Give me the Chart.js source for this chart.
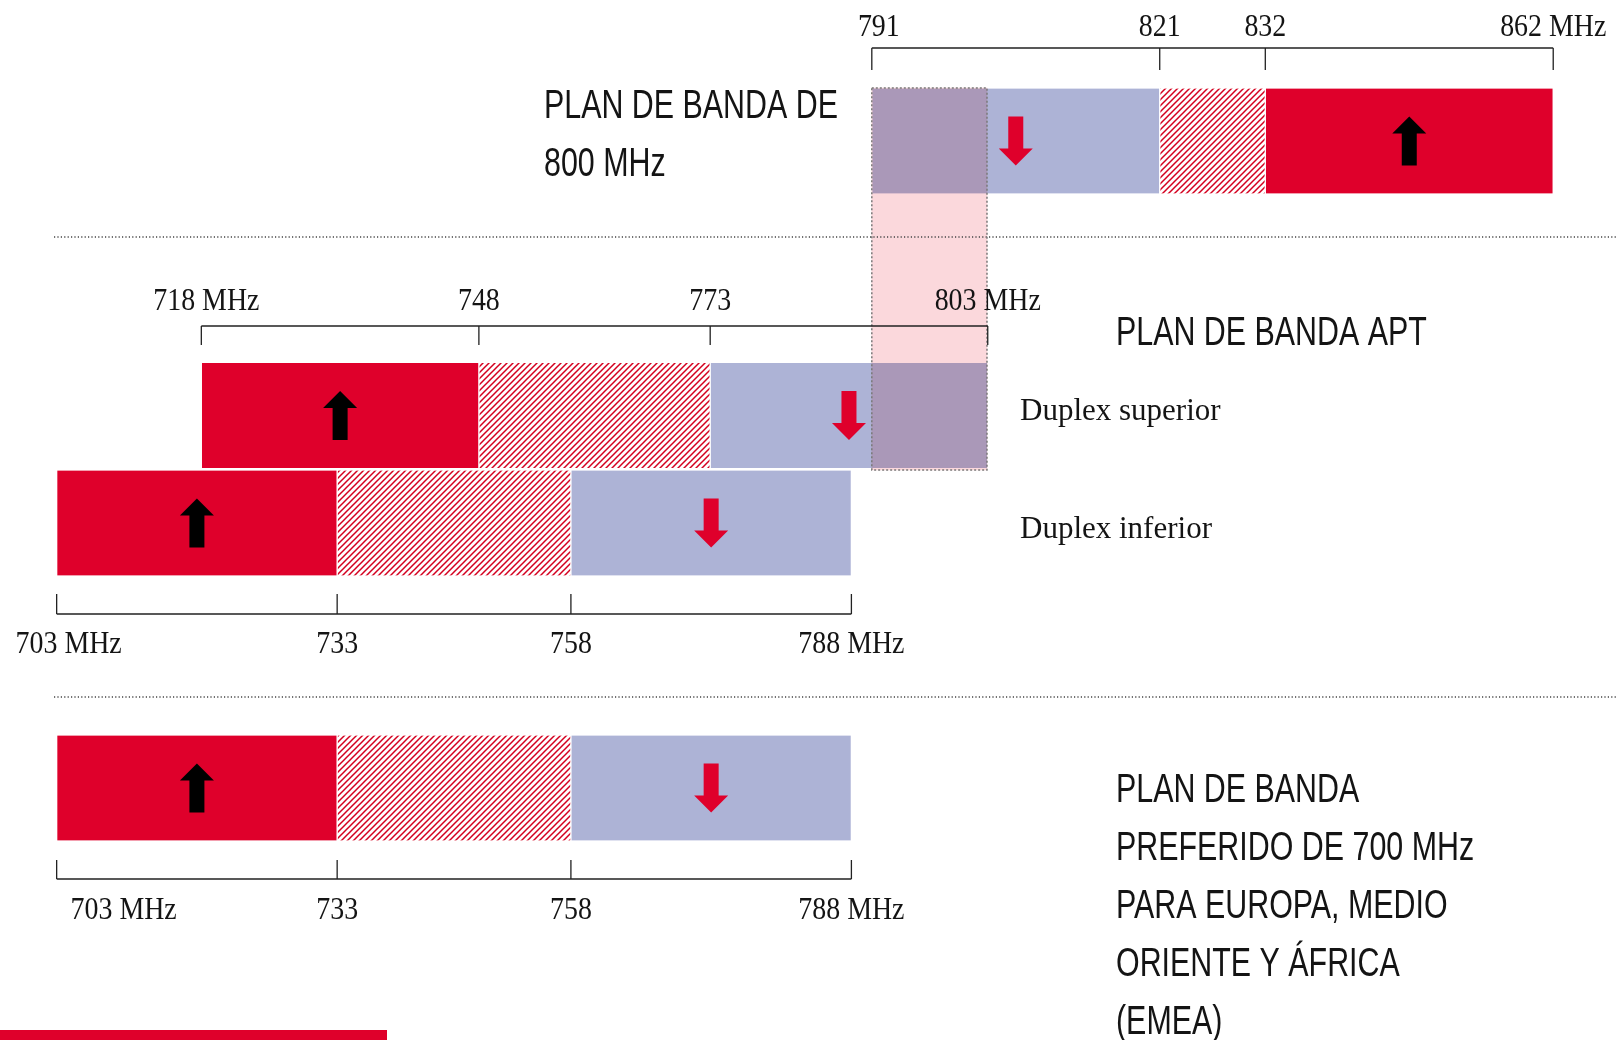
<!DOCTYPE html>
<html>
<head>
<meta charset="utf-8">
<script src="https://cdn.jsdelivr.net/npm/chart.js@4.4.0/dist/chart.umd.min.js"></script>
<style>
  html, body { margin: 0; padding: 0; background: #fff; }
  #wrap { position: relative; width: 1618px; height: 1040px; overflow: hidden; }
  #bandChart { position: absolute; left: 0; top: 0; }
  #redStrip { position: absolute; left: 0; top: 1030px; width: 387px; height: 10px; background: #df002b; }
</style>
</head>
<body>
<div id="wrap">
  <canvas id="bandChart" width="1618" height="1040"></canvas>
  <div id="redStrip"></div>
</div>
<script>
// Band plans, edges in MHz: 800 MHz plan, APT upper duplex, APT lower duplex, EMEA 700 MHz
const rows = ["800", "aptSup", "aptInf", "emea"];
const uplink = [[832, 862], [718, 748], [703, 733], [703, 733]];
const guard = [[821, 832], [748, 773], [733, 758], [733, 758]];
const downlink = [[791, 821], [773, 803], [758, 788], [758, 788]];
const overlap = [791, 803];

// bracket ticks and their labels
const ticks800 = [791, 821, 832, 862];
const labels800 = ["791", "821", "832", "862 MHz"];
const ticksApt = [718, 748, 773, 803];
const labelsApt = ["718 MHz", "748", "773", "803 MHz"];
const ticks700 = [703, 733, 758, 788];
const labels700 = ["703 MHz", "733", "758", "788 MHz"];

// layout / style
const RED = "#df002b";
const BLUE = "#adb3d6";
const PINK = "#fbd8dc";
const INK = "#141414";
const rowAxis = ["xTop", "xApt", "xLow", "xLow"];
const rowY = [141, 415.5, 523, 788];
const barH = 105;
const overlapY = 279, overlapH = 382;

const brackets = [
  { axis: "xTop", ticks: ticks800, labels: labels800, lineY: 48, tick: 22, base: 35.5, firstDx: 7 },
  { axis: "xApt", ticks: ticksApt, labels: labelsApt, lineY: 326, tick: 19, base: 309.5, firstDx: 5 },
  { axis: "xLow", ticks: ticks700, labels: labels700, lineY: 614, tick: -20, base: 653, firstDx: 12 },
  { axis: "xLow", ticks: ticks700, labels: labels700, lineY: 879, tick: -19, base: 918.5, firstDx: 67 },
];

function makeHatch(color) {
  const s = 6;
  const c = document.createElement("canvas");
  c.width = s; c.height = s;
  const g = c.getContext("2d");
  g.strokeStyle = color;
  g.lineWidth = 1.5;
  g.beginPath();
  g.moveTo(0, s); g.lineTo(s, 0);
  g.moveTo(-s / 2, s / 2); g.lineTo(s / 2, -s / 2);
  g.moveTo(s / 2, s * 1.5); g.lineTo(s * 1.5, s / 2);
  g.stroke();
  return g.createPattern(c, "repeat");
}
const hatch = makeHatch("#d4001f");

function drawText(ctx, text, x, y, font, sx, align) {
  ctx.save();
  ctx.font = font;
  ctx.fillStyle = INK;
  ctx.textBaseline = "alphabetic";
  ctx.textAlign = align || "left";
  ctx.translate(x, y);
  ctx.scale(sx, 1);
  ctx.fillText(text, 0, 0);
  ctx.restore();
}

function drawArrow(ctx, cx, cy, down, color) {
  const h = 49, headH = 17, headW = 34, shaftW = 15;
  ctx.save();
  ctx.fillStyle = color;
  ctx.translate(cx, cy);
  if (down) ctx.scale(1, -1);
  ctx.beginPath();
  ctx.moveTo(0, -h / 2);
  ctx.lineTo(headW / 2, -h / 2 + headH);
  ctx.lineTo(shaftW / 2, -h / 2 + headH);
  ctx.lineTo(shaftW / 2, h / 2);
  ctx.lineTo(-shaftW / 2, h / 2);
  ctx.lineTo(-shaftW / 2, -h / 2 + headH);
  ctx.lineTo(-headW / 2, -h / 2 + headH);
  ctx.closePath();
  ctx.fill();
  ctx.restore();
}

const datasets = [{
  label: "overlap",
  data: [{ x: overlap, y: overlapY }],
  xAxisID: "xTop",
  backgroundColor: PINK,
  borderWidth: 0,
  barThickness: overlapH,
  grouped: false,
  order: -1,
  blend: "multiply"
}];
rows.forEach((r, i) => {
  [["uplink", uplink, RED], ["guard", guard, hatch], ["downlink", downlink, BLUE]].forEach(([kind, arr, fill]) => {
    datasets.push({
      label: r + " " + kind,
      kind: kind,
      data: [{ x: arr[i], y: rowY[i] }],
      xAxisID: rowAxis[i],
      backgroundColor: fill,
      borderColor: "#ffffff",
      borderWidth: { left: 1, right: 1, top: 0, bottom: 0 },
      borderSkipped: false,
      barThickness: barH,
      grouped: false
    });
  });
});

const bandPlugin = {
  id: "bandPlugin",
  beforeDatasetDraw(chart, args) {
    if (chart.data.datasets[args.index].blend) {
      chart.ctx.save();
      chart.ctx.globalCompositeOperation = "multiply";
    }
  },
  afterDatasetDraw(chart, args) {
    if (chart.data.datasets[args.index].blend) chart.ctx.restore();
  },
  afterDatasetsDraw(chart) {
    const ctx = chart.ctx;

    // dotted separators between plans
    ctx.save();
    ctx.strokeStyle = "#444";
    ctx.lineWidth = 1.4;
    ctx.setLineDash([1.2, 2.2]);
    [237, 697].forEach(y => {
      ctx.beginPath();
      ctx.moveTo(54, y); ctx.lineTo(chart.width, y);
      ctx.stroke();
    });
    ctx.restore();

    // overlap box border
    const ov = chart.getDatasetMeta(0).data[0].getProps(["x", "y", "base", "height"], true);
    ctx.save();
    ctx.strokeStyle = "#7a7a7a";
    ctx.lineWidth = 1.5;
    ctx.setLineDash([2, 2]);
    ctx.strokeRect(Math.min(ov.x, ov.base), ov.y - ov.height / 2, Math.abs(ov.x - ov.base), ov.height);
    ctx.restore();

    // frequency brackets
    brackets.forEach(b => {
      const sc = chart.scales[b.axis];
      const px = b.ticks.map(t => sc.getPixelForValue(t));
      ctx.save();
      ctx.strokeStyle = "#222";
      ctx.lineWidth = 1.3;
      ctx.beginPath();
      ctx.moveTo(px[0], b.lineY); ctx.lineTo(px[px.length - 1], b.lineY);
      px.forEach(p => { ctx.moveTo(p, b.lineY); ctx.lineTo(p, b.lineY + b.tick); });
      ctx.stroke();
      ctx.restore();
      b.labels.forEach((lab, i) => {
        drawText(ctx, lab, px[i] + (i === 0 ? b.firstDx : 0), b.base,
          "31px 'Liberation Serif', 'Times New Roman', serif", 0.9, "center");
      });
    });

    // direction arrows
    chart.data.datasets.forEach((ds, di) => {
      if (ds.kind !== "uplink" && ds.kind !== "downlink") return;
      chart.getDatasetMeta(di).data.forEach(el => {
        const p = el.getProps(["x", "y", "base"], true);
        const cx = (p.x + p.base) / 2;
        if (ds.kind === "uplink") drawArrow(ctx, cx, p.y, false, "#000");
        else drawArrow(ctx, cx, p.y, true, RED);
      });
    });

    // titles
    const sans = "40px 'Liberation Sans', Arial, sans-serif";
    const serif = "31px 'Liberation Serif', 'Times New Roman', serif";
    drawText(ctx, "PLAN DE BANDA DE", 544, 118, sans, 0.76);
    drawText(ctx, "800 MHz", 544, 175.5, sans, 0.76);
    drawText(ctx, "PLAN DE BANDA APT", 1116, 345, sans, 0.76);
    drawText(ctx, "Duplex superior", 1020, 420, serif, 1);
    drawText(ctx, "Duplex inferior", 1020, 537.5, serif, 1);
    ["PLAN DE BANDA", "PREFERIDO DE 700 MHz", "PARA EUROPA, MEDIO", "ORIENTE Y ÁFRICA", "(EMEA)"]
      .forEach((line, i) => drawText(ctx, line, 1116, 802 + i * 58, sans, 0.76));
  }
};

new Chart(document.getElementById("bandChart").getContext("2d"), {
  type: "bar",
  data: { datasets: datasets },
  options: {
    indexAxis: "y",
    responsive: false,
    animation: false,
    layout: { padding: 0 },
    plugins: { legend: { display: false }, title: { display: false }, tooltip: { enabled: false } },
    scales: {
      xTop: { type: "linear", axis: "x", min: 700.16, max: 868.75, display: false, beginAtZero: false },
      xApt: { type: "linear", axis: "x", min: 696.24, max: 871.12, display: false, beginAtZero: false },
      xLow: { type: "linear", axis: "x", min: 696.94, max: 869.99, display: false, beginAtZero: false },
      y: { type: "linear", min: 0, max: 1040, reverse: true, offset: false, display: false }
    }
  },
  plugins: [bandPlugin]
});
</script>
</body>
</html>
